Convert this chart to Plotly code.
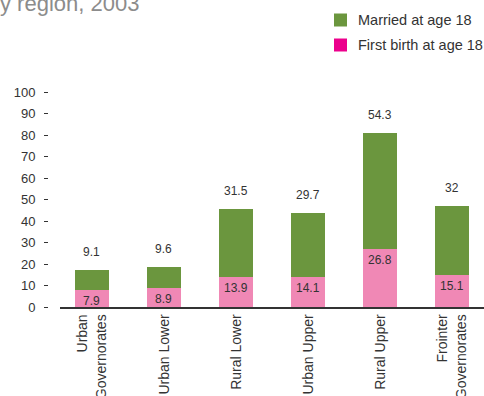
import plotly.graph_objects as go

# Share of women by region (%)
regions = ["Urban<br>Governorates", "Urban Lower", "Rural Lower",
           "Urban Upper", "Rural Upper", "Frointer<br>Governorates"]
first_birth = [7.9, 8.9, 13.9, 14.1, 26.8, 15.1]
married = [9.1, 9.6, 31.5, 29.7, 54.3, 32]
y_ticks = [0, 10, 20, 30, 40, 50, 60, 70, 80, 90, 100]

W, H = 484, 396
M_TOP, M_BOT = 92, 89
PLOT_H = H - M_TOP - M_BOT
FONT = "Liberation Sans, Arial, sans-serif"
GREEN = "#6b963e"
PINK_BAR = "#f088b5"
PINK_KEY = "#ec008c"
TEXT = "#333333"


def py(p):
    """Pixel row -> paper y."""
    return (H - M_BOT - p) / PLOT_H


def px(p):
    """Pixel column -> paper x."""
    return p / W


def fmt(v):
    return f"{v:g}"


fig = go.Figure()
fig.add_trace(go.Bar(x=regions, y=first_birth, name="First birth at age 18",
                     marker=dict(color=PINK_BAR, line=dict(width=0)),
                     showlegend=False))
fig.add_trace(go.Bar(x=regions, y=married, name="Married at age 18",
                     marker=dict(color=GREEN, line=dict(width=0)),
                     showlegend=False))

annotations = []
for i, (fb, mr) in enumerate(zip(first_birth, married)):
    annotations.append(dict(x=i, y=fb, xref="x", yref="y", text=fmt(fb),
                            showarrow=False, yanchor="middle", yshift=-11,
                            font=dict(family=FONT, size=12, color=TEXT)))
    annotations.append(dict(x=i, y=fb + mr, xref="x", yref="y", text=fmt(mr),
                            showarrow=False, yanchor="middle", yshift=18,
                            font=dict(family=FONT, size=12, color=TEXT)))

# Legend drawn by hand: swatches and labels
legend_items = [("Married at age 18", GREEN, 20), ("First birth at age 18", PINK_KEY, 45)]
shapes = []
for label, color, cy in legend_items:
    shapes.append(dict(type="rect", xref="paper", yref="paper",
                       x0=px(334), x1=px(347), y0=py(cy + 6.5), y1=py(cy - 6.5),
                       fillcolor=color, line=dict(width=0)))
    annotations.append(dict(x=px(356), y=py(cy), xref="paper", yref="paper",
                            text=label, showarrow=False, xanchor="left",
                            yanchor="middle",
                            font=dict(family=FONT, size=14.5, color=TEXT)))

# Title (runs off the top-left edge)
annotations.append(dict(x=px(-2), y=py(3), xref="paper", yref="paper",
                        text="y region, 2003", showarrow=False,
                        xanchor="left", yanchor="middle",
                        font=dict(family=FONT, size=22, color="#8c8c8c")))

fig.update_layout(
    width=W, height=H,
    margin=dict(l=0, r=0, t=M_TOP, b=M_BOT, pad=0),
    barmode="stack",
    bargap=0.53,
    paper_bgcolor="white",
    plot_bgcolor="white",
    showlegend=False,
    font=dict(family=FONT, color=TEXT),
    shapes=shapes,
    annotations=annotations,
    xaxis=dict(
        type="category",
        domain=[px(60), 1],
        range=[-0.444, 5.444],
        showline=True, linecolor=TEXT, linewidth=1.5,
        ticks="", showgrid=False, zeroline=False,
        tickangle=-90,
        tickfont=dict(family=FONT, size=14, color=TEXT),
        automargin=False,
    ),
    yaxis=dict(
        range=[0, 100],
        anchor="free", position=px(48),
        tickvals=y_ticks,
        ticks="outside", ticklen=4, tickwidth=1, tickcolor=TEXT,
        ticklabelstandoff=6,
        showline=False, showgrid=False, zeroline=False,
        tickfont=dict(family=FONT, size=13, color=TEXT),
        automargin=False,
    ),
)

fig.write_html("out.html")
